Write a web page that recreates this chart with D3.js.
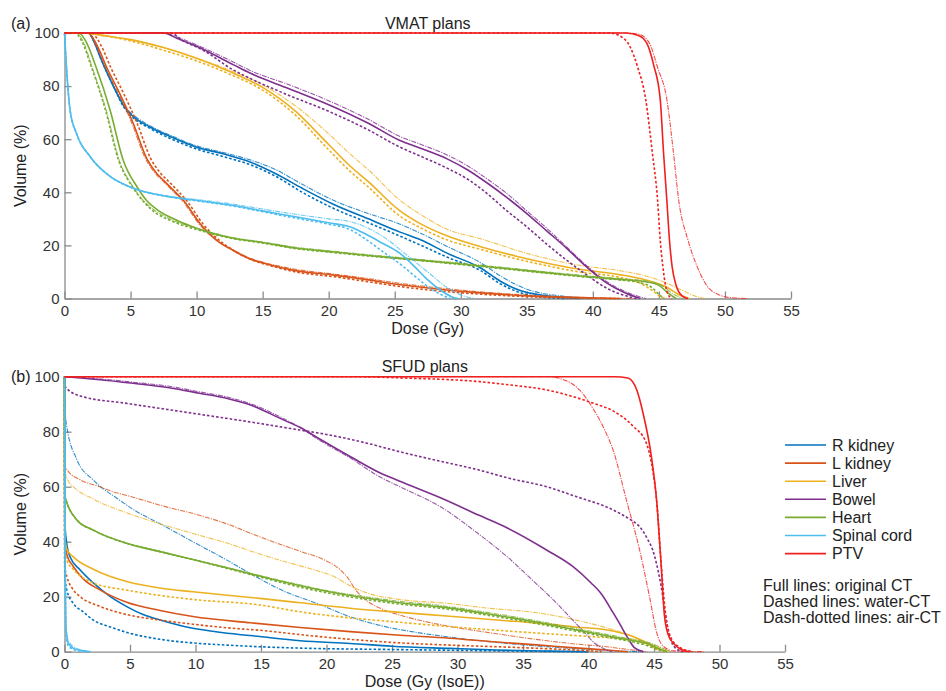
<!DOCTYPE html>
<html>
<head>
<meta charset="utf-8">
<script src="https://cdn.jsdelivr.net/npm/d3@7"></script>
<style>
body { margin: 0; background: #fff; }
svg text { font-family: "Liberation Sans", Arial, Helvetica, sans-serif; fill: #222; }
.axis path, .axis line { stroke: #8a8a8a; stroke-width: 1.3; }
.axis text { font-size: 15px; fill: #333; }
</style>
</head>
<body>
<div id="chart"></div>
<script>
// tick values
var doseTicks = [0, 5, 10, 15, 20, 25, 30, 35, 40, 45, 50, 55];
var volTicks = [0, 20, 40, 60, 80, 100];

var structNames = ["R kidney", "L kidney", "Liver", "Bowel", "Heart", "Spinal cord", "PTV"];
var structColors = ["#0072BD", "#D95319", "#EDB120", "#7E2F8E", "#77AC30", "#4DBEEE", "#F0201E"];
var ctNotes = ["Full lines: original CT", "Dashed lines: water-CT", "Dash-dotted lines: air-CT"];

// each structure: [original CT, water-CT, air-CT], points are [dose, volume]
// ---- VMAT plans ----
var vmatRKidney = [
  [[0,100],[1.8,100],[2.3,96],[2.7,91],[3.7,80],[4.5,72.5],[5,69.5],[6.5,64.5],[8,61],[10,57],[12,54.5],[14,51.5],[16,47],[18,41.5],[20.35,35.5],[23,30],[25.4,25],[27,22],[29,17],[31.5,11.5],[33,6.5],[34.5,3],[36.5,1],[39,0]],
  [[0,100],[1.8,100],[2.3,96],[2.7,91],[3.7,80],[4.5,72],[5,69],[6.5,64],[8,60.3],[10,56.3],[12,53.5],[14,50.5],[16,46],[18,40],[20.35,34],[23,28.5],[25.4,23.5],[27,20],[29,15.5],[31.5,10.5],[33,5.5],[34.5,2.2],[36,0.6],[38,0]],
  [[0,100],[1.8,100],[2.3,96],[2.7,91],[3.7,80],[4.5,72.5],[5,70],[6.5,65],[8,61.5],[10,57.5],[12,55],[14,52.3],[16,48.5],[18,43],[20.35,37],[23,32],[25.4,28],[27,24.5],[29,19.5],[31.5,13.5],[33,8.5],[35,3.5],[37.5,1],[40,0]]
];
var vmatLKidney = [
  [[0,100],[1.8,100],[2.5,95],[3.2,87],[4.2,77],[5.2,66],[6.2,53],[7,47],[7.5,44.5],[8.2,41],[9,37],[10.3,28],[11.5,22],[12.8,18],[14,15],[15.3,13],[17.5,10.5],[20.4,8.8],[23,7],[25.4,5.2],[28,3.7],[31,2.3],[35,1],[40,0.2],[42,0]],
  [[0,100],[2,100],[2.8,95],[3.5,87],[4.5,77],[5.5,66],[6.5,53],[7.3,47],[7.8,44.5],[8.5,41],[9.3,36.5],[10.5,28],[11.7,22],[13,17.5],[14.2,14.5],[15.5,12.5],[17.5,10],[20.4,8.2],[23,6.3],[25.4,4.5],[28,3],[31,1.8],[35,0.7],[40,0.1],[42,0]],
  [[0,100],[1.8,100],[2.4,95],[3.1,87],[4.1,77],[5.1,66],[6.1,53],[6.9,47],[7.4,44.5],[8.1,41],[8.9,37],[10.2,28],[11.4,22.3],[12.8,18.3],[14,15.3],[15.3,13.3],[17.5,11],[20.4,9.2],[23,7.5],[25.4,5.7],[28,4.2],[31,2.7],[35,1.3],[40,0.3],[43,0]]
];
var vmatLiver = [
  [[0,100],[1.5,100],[3,99],[5,97.5],[7.5,94.5],[10,90.5],[12.5,85.5],[15,79.5],[17.5,70.5],[20,58],[21.6,50],[23,44],[25.4,33],[27,28],[29,23.5],[31.5,19.5],[35,15],[39,11],[42,9],[44,7],[45.5,4.5],[46.5,1.5],[47.3,0]],
  [[0,100],[1.5,100],[3,99],[5,97],[7.5,93.5],[10,89.5],[12.5,84.5],[15,78.5],[17.5,69],[20,56],[21.6,48],[23,42],[25.4,31],[27,26.5],[29,22],[31.5,18.5],[35,14],[39,10],[42,8],[43.5,6],[44.5,3],[45.2,0.5],[45.6,0]],
  [[0,100],[1.5,100],[3,99],[5,97.5],[7.5,94.5],[10,90.5],[12.5,86],[15,80.5],[17.5,72.5],[20,62],[21.6,54.5],[23,48.5],[25.4,37],[27,31.5],[29,26],[31.5,22.5],[35,17],[39,12.5],[42,10.5],[44,8.5],[45.5,6],[46.8,3],[47.8,0.8],[48.5,0]]
];
var vmatBowel = [
  [[0,100],[7.5,100],[8.5,98],[10,95],[12.8,88],[14,85],[17,79],[20,73],[23,66],[25.4,59.5],[27,56.5],[29,52.5],[30.5,48.5],[32,43.5],[33.5,38],[35,32],[36.5,25.5],[38,19],[39.5,12],[41,6],[42.5,2],[43.6,0]],
  [[0,100],[8,100],[9,97],[10.5,93.5],[12.8,86],[14,83],[17,76.5],[20,70.5],[23,63.5],[25.4,57],[27,53.5],[29,49],[30.5,45],[32,39.5],[33.5,33],[35,27],[36.5,20.5],[38,14.5],[39.5,9],[41,4],[42.5,1],[43.3,0]],
  [[0,100],[7.5,100],[8.5,98.5],[10,95.5],[12.8,89],[14,86],[17,80.5],[20,74.5],[23,67.5],[25.4,61],[27,58],[29,54],[30.5,50],[32,45],[33.5,39.5],[35,33],[36.5,26.5],[38,19.5],[39.5,12.5],[41,6.5],[42.5,2.5],[44,0]]
];
var vmatHeart = [
  [[0,100],[1.1,100],[1.6,97],[2.4,87],[3.45,71],[4.45,52],[5.5,42],[6.2,37],[7,33.5],[8.5,29.5],[10,26.5],[12.5,23],[15.1,21],[17.5,19],[20.4,17.5],[23,16.2],[25.4,15.1],[30,13],[34,11],[39,8.5],[42,7.2],[44,6.3],[45,5],[45.7,2],[46.3,0]],
  [[0,100],[0.8,100],[1.3,97],[2.05,87],[3.1,71],[4.1,52],[5.15,42],[5.9,37],[6.7,33],[8.2,29],[10,26],[12.5,22.8],[15.1,20.8],[17.5,18.8],[20.4,17.3],[23,16],[25.4,15],[30,12.8],[34,10.8],[39,8.3],[42,7],[43.5,6],[44.5,4],[45,1.5],[45.4,0]],
  [[0,100],[0.9,100],[1.4,97],[2.1,87],[3.15,71],[4.15,52],[5.2,42],[5.95,37],[6.8,33.3],[8.3,29.3],[10,26.5],[12.5,23.2],[15.1,21.2],[17.5,19.3],[20.4,17.8],[23,16.5],[25.4,15.4],[30,13.3],[34,11.3],[39,8.8],[42,7.5],[44,6.6],[45.2,5],[46,2],[46.8,0]]
];
var vmatSpinal = [
  [[0,100],[0.15,87],[0.42,71],[0.92,62],[1.93,53.5],[3.45,46],[4.96,42],[7.7,38.5],[10,37],[12.8,35],[15,33],[17.8,30.5],[20,28.5],[21.6,27],[22.9,24],[24,21],[25.4,17],[26.5,12],[27.5,7],[28.5,3],[29.3,0.7],[29.8,0]],
  [[0,100],[0.15,87],[0.42,71],[0.92,62],[1.93,53.5],[3.45,46],[4.96,42],[7.7,38.5],[10,36.8],[12.8,34.8],[15,32.7],[17.8,30],[20,28],[21.6,26],[22.9,22],[24,18],[25.4,13],[26.5,8.5],[27.5,4.5],[28.5,1.5],[29.2,0]],
  [[0,100],[0.15,87],[0.42,71],[0.92,62],[1.93,53.5],[3.45,46],[4.96,42],[7.7,38.7],[10,37.3],[12.8,35.5],[15,33.7],[17.8,31.5],[20,30],[21.6,29],[23,26.5],[24.5,22],[26,16],[27.5,10],[29,4],[30.3,0.8],[31,0]]
];
var vmatPTV = [
  [[0,100],[42.5,100],[43.5,99],[44.1,96],[44.6,88],[45.1,75],[45.35,55],[45.6,37],[45.8,22],[46,12],[46.3,5],[46.75,1],[47.2,0]],
  [[0,100],[41.3,100],[42,99],[42.8,95],[43.4,87],[44,75],[44.5,55],[44.9,37],[45.1,22],[45.3,12],[45.5,5],[45.7,1.5],[46,0]],
  [[0,100],[42.5,100],[43.5,99.5],[44.3,96],[44.9,87],[45.6,75],[46.1,55],[46.5,37],[47.2,22],[47.9,12],[48.6,5],[49.5,1.5],[50.5,0.3],[51.7,0]]
];

// ---- SFUD plans ----
var sfudRKidney = [
  [[0,100],[0.02,48],[0.15,40],[0.42,34.5],[1.2,29.7],[2.2,25],[3.5,20],[4.75,16.4],[6,13.5],[7.3,11.5],[9.8,8.5],[12,7],[14.9,5.5],[18,4],[21.8,3],[25,2],[29.4,1.2],[33,0.6],[37,0.2],[40,0]],
  [[0,100],[0.02,28],[0.2,22],[0.67,17.6],[1.43,14.5],[2.2,11.5],[3.5,9],[5,6.7],[7.3,4.5],[10.3,3],[12.4,2.4],[14.9,1.8],[18,1.3],[25,0.8],[30,0.5],[35,0.2],[40,0]],
  [[0,100],[0.05,88],[0.17,82],[0.93,70],[2.2,62.4],[4,55.8],[5.5,51],[7.3,46.5],[9.8,40],[12.4,33.3],[14.9,26.5],[17,21.5],[19.25,17.6],[21.8,12.7],[24.3,9.3],[26.5,7.3],[29.4,5.3],[33.8,3],[38.8,1.2],[42,0.3],[44,0]]
];
var sfudLKidney = [
  [[0,100],[0.02,40],[0.2,35],[0.67,31],[1.43,26.5],[2.7,22.5],[4.75,18],[7.3,15],[9.8,12.8],[14.2,10.5],[18,8.8],[21.8,7.3],[25.6,6],[29.4,4.9],[33,3.5],[36.3,2.4],[39,1.4],[41.4,0.6],[43,0]],
  [[0,100],[0.02,31],[0.2,27],[0.6,23],[1.2,20],[2.7,16.5],[4.75,13.5],[7.3,11.5],[9.8,10],[12.9,8.5],[14.9,7.8],[18,6.2],[21.8,4.5],[25.6,3.2],[29.4,2.4],[33,1.8],[36.3,1.2],[39,0.6],[41,0]],
  [[0,100],[0.02,68],[0.3,65.5],[1.2,62.5],[2.7,60],[3.5,58.5],[5,56.5],[7.5,53],[10,50],[12.5,46.3],[14.5,42.5],[16.5,39],[18,36.5],[20,33],[21,30],[21.6,27],[22.3,22],[23.1,18.5],[24.5,15],[25.6,13.3],[27.5,11],[29.4,9.2],[33,6.5],[36.3,4.3],[39,2.8],[41.4,1.8],[43,0.8],[44.5,0]]
];
var sfudLiver = [
  [[0,100],[0.02,42],[0.2,37],[0.67,34.5],[2.2,30],[4.75,25.5],[7.5,23],[9.8,21.8],[14.9,19.4],[18,17.8],[21.8,15.8],[25.6,14.3],[29.4,12.9],[33,11.5],[36.3,10.3],[39,9],[41.4,7.9],[43.4,5.5],[44.5,3],[45.3,1],[46,0]],
  [[0,100],[0.02,38],[0.2,33],[0.67,30],[2.2,25],[4.75,22.4],[9.8,19],[14.9,17],[18,14.5],[21.8,12.3],[25.6,10.7],[29.4,9.1],[33,7.8],[36.3,6.7],[40.1,5.5],[43.4,4.3],[44.5,2.5],[45.3,0.8],[46,0]],
  [[0,100],[0.02,66],[0.3,62],[0.67,60],[2.2,55.5],[4.75,50.5],[7.3,46.5],[9.8,43],[12.4,39.5],[14.9,35.5],[17,32.5],[19.25,29.5],[20.5,27.5],[21.8,24],[23,21.5],[25.6,19],[29.4,17.5],[32,16],[36.3,14],[40.1,10.3],[42.7,6.7],[44,4.3],[45.2,2],[46.2,0]]
];
var sfudBowel = [
  [[0,100],[2.5,99],[5.25,97.6],[8,96],[10.3,94],[12.5,92],[14.2,89.7],[16.7,84.3],[18,81.5],[19.25,78],[21.8,71],[24.1,65],[25.6,62],[28.7,56],[31.7,49.5],[33.8,45],[36.8,37],[38.8,31],[40.2,25],[40.9,21.5],[41.9,14],[42.4,10],[43,5],[43.5,1.5],[44.2,0]],
  [[0,100],[0.02,96.5],[1.2,93],[4.75,90.3],[9.8,86.7],[14.9,83],[17.98,80.6],[20,79],[23.1,75.8],[25.6,72.7],[28,70],[31.7,66],[34,63],[36.8,60],[39,56.5],[41.9,51.5],[43.2,48],[43.9,45.5],[44.5,41],[44.9,37],[45.5,25],[46,10],[46.3,4],[46.6,1.5],[47.2,0]],
  [[0,100],[2.5,99.3],[5.25,98],[8,96.5],[10.3,94.5],[12.5,92.5],[14.2,90.2],[16.7,84.8],[18,81.5],[19.25,77.5],[21.8,70.5],[24.1,63.5],[25.6,60],[28.7,52.7],[31.7,42.5],[33.8,34.5],[35.5,27],[37.6,17.5],[38.5,13],[39.6,7.5],[40.5,3],[41,1.5],[41.8,0]]
];
var sfudHeart = [
  [[0,100],[0.02,57],[0.2,54],[0.93,48],[2.2,44.2],[4.75,39.4],[7.3,36.4],[9.8,33.5],[12.4,30.5],[14.9,27.5],[17.5,24.5],[20.5,21.5],[23,19.5],[25.6,17.8],[28.7,16.3],[32,14],[36.3,10.5],[39,8],[41.4,5.8],[43.4,4],[44.5,3],[45.3,1.3],[46,0]],
  [[0,100],[0.02,57],[0.2,54],[0.93,48],[2.2,44.2],[4.75,39.4],[7.3,36.4],[9.8,33.5],[12.4,30.3],[14.9,27.2],[17.5,24],[20.5,21],[23,19],[25.6,17.3],[28.7,15.8],[32,13.5],[36.3,10],[39,7.5],[41.4,5.3],[43.4,3.5],[44.5,2.2],[45.2,0.8],[45.8,0]],
  [[0,100],[0.02,57],[0.2,54],[0.93,48],[2.2,44.2],[4.75,39.4],[7.3,36.4],[9.8,33.5],[12.4,30.6],[14.9,27.7],[17.5,24.8],[20.5,21.8],[23,20],[25.6,18.3],[28.7,16.8],[32,14.5],[36.3,11],[39,8.5],[41.4,6.3],[43.4,4.5],[44.5,3.5],[45.4,1.8],[46.3,0]]
];
var sfudSpinal = [
  [[0,100],[0.03,70],[0.06,30],[0.12,8],[0.3,3],[0.7,1.2],[1.3,0.4],[2,0]],
  [[0,100],[0.03,65],[0.06,25],[0.12,6],[0.3,2],[0.7,0.8],[1.5,0]],
  [[0,100],[0.03,72],[0.06,35],[0.12,10],[0.3,4],[0.8,1.5],[1.4,0.5],[2,0]]
];
var sfudPTV = [
  [[0,100],[42,100],[43,99.5],[43.7,95],[44.2,86],[44.8,71],[45.2,55],[45.5,35],[45.8,13],[46.1,6],[46.5,3],[47,1],[47.7,0]],
  [[0,100],[22,100],[26,99.5],[31.7,98.2],[34,97],[36.8,95.2],[39,92.5],[40.4,90.3],[41.9,87.5],[43.4,82],[44.4,76],[44.9,66],[45.2,55],[45.5,35],[45.9,13],[46.3,5],[47,1.5],[48,0]],
  [[0,100],[37,100],[37.8,99.4],[39.35,95],[40.4,88],[41.2,81],[41.9,73],[42.9,55],[43.9,37],[44.7,19],[45.2,7],[45.7,2],[46.5,0.3],[48.8,0]]
];

var vmatCurves = [vmatRKidney, vmatLKidney, vmatLiver, vmatBowel, vmatHeart, vmatSpinal, vmatPTV];
var sfudCurves = [sfudRKidney, sfudLKidney, sfudLiver, sfudBowel, sfudHeart, sfudSpinal, sfudPTV];

var width = 946;
var height = 691;

var svg = d3.select("#chart")
  .append("svg")
  .attr("width", width)
  .attr("height", height);

// line styles for original / water / air
var lineStyles = [
  { dash: null, w: 1.6, op: 1 },
  { dash: "2.6,2", w: 1.6, op: 1 },
  { dash: "5,1.2,1.2,1.2", w: 1.1, op: 0.8 }
];

function drawPanel(curves, opts) {
  var x = d3.scaleLinear().domain([0, 55]).range([opts.left, opts.right]);
  var y = d3.scaleLinear().domain([0, 100]).range([opts.bottom, opts.top]);

  var line = d3.line()
    .x(function(d) { return x(d[0]); })
    .y(function(d) { return y(d[1]); })
    .curve(d3.curveMonotoneX);

  var g = svg.append("g");

  // axes first, curves above
  g.append("g")
    .attr("class", "axis")
    .attr("transform", "translate(0," + opts.bottom + ")")
    .call(d3.axisBottom(x).tickValues(doseTicks).tickSizeInner(-7).tickSizeOuter(0).tickPadding(7));

  g.append("g")
    .attr("class", "axis")
    .attr("transform", "translate(" + opts.left + ",0)")
    .call(d3.axisLeft(y).tickValues(volTicks).tickSizeInner(-7).tickSizeOuter(0).tickPadding(5));

  curves.forEach(function(triple, i) {
    [2, 1, 0].forEach(function(k) {
      var st = lineStyles[k];
      g.append("path")
        .datum(triple[k])
        .attr("d", line)
        .attr("fill", "none")
        .attr("stroke", structColors[i])
        .attr("stroke-width", st.w)
        .attr("stroke-opacity", st.op)
        .attr("stroke-dasharray", st.dash)
        .attr("stroke-linejoin", "round");
    });
  });

  // titles and labels
  g.append("text")
    .attr("x", (opts.left + opts.right) / 2)
    .attr("y", opts.titleY)
    .attr("text-anchor", "middle")
    .style("font-size", "16px")
    .text(opts.title);

  g.append("text")
    .attr("x", 11)
    .attr("y", opts.tagY)
    .style("font-size", "16px")
    .text(opts.tag);

  g.append("text")
    .attr("x", (opts.left + opts.right) / 2)
    .attr("y", opts.xLabelY)
    .attr("text-anchor", "middle")
    .style("font-size", "16px")
    .text(opts.xLabel);

  g.append("text")
    .attr("transform", "translate(26," + ((opts.top + opts.bottom) / 2) + ")rotate(-90)")
    .attr("text-anchor", "middle")
    .style("font-size", "16px")
    .text("Volume (%)");
}

drawPanel(vmatCurves, {
  left: 64.5, right: 791, top: 33, bottom: 298.5,
  title: "VMAT plans", titleY: 29, tag: "(a)", tagY: 29,
  xLabel: "Dose (Gy)", xLabelY: 334
});

drawPanel(sfudCurves, {
  left: 64.5, right: 785, top: 376.7, bottom: 651.7,
  title: "SFUD plans", titleY: 372, tag: "(b)", tagY: 382,
  xLabel: "Dose (Gy (IsoE))", xLabelY: 687
});

// legend
var legend = svg.append("g").attr("transform", "translate(785,445)");
var rows = legend.selectAll("g.row")
  .data(structNames)
  .enter()
  .append("g")
  .attr("class", "row")
  .attr("transform", function(d, i) { return "translate(0," + (i * 18.1) + ")"; });

rows.append("line")
  .attr("x1", 0).attr("x2", 41)
  .attr("y1", 0).attr("y2", 0)
  .attr("stroke", function(d, i) { return structColors[i]; })
  .attr("stroke-width", 1.6);

rows.append("text")
  .attr("x", 47)
  .attr("y", 5.5)
  .style("font-size", "16px")
  .text(function(d) { return d; });

svg.append("g")
  .selectAll("text")
  .data(ctNotes)
  .enter()
  .append("text")
  .attr("x", 763)
  .attr("y", function(d, i) { return 590.5 + i * 16; })
  .style("font-size", "16px")
  .text(function(d) { return d; });
</script>
</body>
</html>
